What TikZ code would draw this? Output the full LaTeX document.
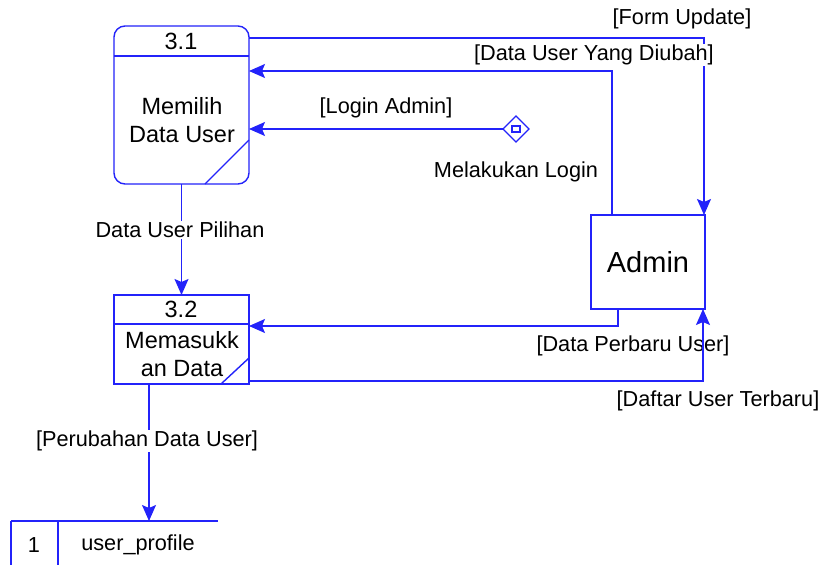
\documentclass[tikz,border=0pt]{standalone}
\usepackage{fontspec}
\setmainfont{Liberation Sans}
\usetikzlibrary{arrows.meta,shapes.geometric,shapes.misc,calc}
\definecolor{dfd}{RGB}{35,35,250}
\tikzset{
  ln/.style={draw=dfd, line width=1.4pt},
  flow/.style={ln, arrows={-Stealth[length=16pt, width=14pt, inset=3pt]}}
}
\begin{document}
\begin{tikzpicture}[x=1pt,y=1pt,
  every node/.style={font=\fontsize{21.7}{27}\selectfont, text=black, outer sep=0pt, inner sep=0pt},
  boxtxt/.style={align=center, font=\fontsize{23.5}{27.5}\selectfont},
  procbox/.style={ln, rectangle, rounded corners=11pt, minimum width=135pt, minimum height=158pt},
  procbox2/.style={ln, chamfered rectangle, chamfered rectangle xsep=5pt, chamfered rectangle ysep=5pt, minimum width=135pt, minimum height=89pt},
  entbox/.style={ln, rectangle, minimum width=114pt, minimum height=94pt},
  lbl/.style={fill=white, inner sep=1pt}
]
\useasboundingbox (0,0) rectangle (820,-565);
\fill[white] (0,0) rectangle (820,-565);

% process 3.1
\node[procbox] (p31) at (181.5,-105) {};
\draw[ln] ($(p31.north west)+(0,-30)$) -- ($(p31.north east)+(0,-30)$);
\draw[ln] ($(p31.south east)+(0,44)$) -- ($(p31.south east)+(-44,0)$);
\node[boxtxt] (p31n) at (181,-41) {3.1};
\node[boxtxt] (p31t) at (182,-120) {Memilih\\Data User};

% process 3.2
\node[procbox2] (p32) at (181.5,-339.5) {};
\draw[ln] ($(p32.north west)+(0,-29)$) -- ($(p32.north east)+(0,-29)$);
\draw[ln] ($(p32.east |- p32.south)+(0,26)$) -- ($(p32.east |- p32.south)+(-28,0)$);
\node[boxtxt] (p32n) at (181,-309) {3.2};
\node[boxtxt] (p32t) at (182,-354) {Memasukk\\an Data};

% entity
\node[entbox, font=\fontsize{29}{32}\selectfont] (admin) at (648,-262) {Admin};

% diamond
\node[ln, diamond, minimum width=26pt, minimum height=26pt] (dia) at (516,-129) {};
\draw[ln, line width=1.2pt] ($(dia.center)+(-4,-3)$) rectangle ($(dia.center)+(4,3)$);
\node (dial) at (516,-172) {Melakukan Login};

% data store
\draw[ln] (11,-521) -- (218,-521);
\draw[ln] (11,-521) -- (11,-565);
\draw[ln] (58,-521) -- (58,-565);
\node (ds1) at (34,-545) {1};
\node (ds2) at (138,-545) {user\_profile};
\coordinate (storetop) at (149,-521);

% helper coordinates
\coordinate (yFU) at (704,-38);
\coordinate (cDU) at (612,-71);
\coordinate (cDP) at (618,-326);
\coordinate (cDT) at (703,-381);
\coordinate (cPD) at (149,-384);

% flows
\draw[flow] (p31.east |- yFU) -- (yFU) -- (admin.north -| yFU);
\node (lFU) at (682,-19) {[Form Update]};

\draw[flow] (admin.north -| cDU) -- (cDU) -- (p31.east |- cDU);
\node[lbl] (lDU) at (594,-55) {[Data User Yang Diubah]};

\draw[flow] (dia.west) -- (p31.east |- dia.west);
\node (lLA) at (386,-108) {[Login Admin]};

\draw[flow] (p31.south) -- (p32.north);
\node[lbl] (lDP) at (180,-230) {Data User Pilihan};

\draw[flow] (admin.south -| cDP) -- (cDP) -- (p32.east |- cDP);
\node (lPB) at (633,-346) {[Data Perbaru User]};

\draw[flow] (p32.east |- cDT) -- (cDT) -- (admin.south -| cDT);
\node (lDT) at (718,-401) {[Daftar User Terbaru]};

\draw[flow] (cPD) -- (storetop);
\node[lbl] (lPD) at (147,-441) {[Perubahan Data User]};
\end{tikzpicture}
\end{document}
